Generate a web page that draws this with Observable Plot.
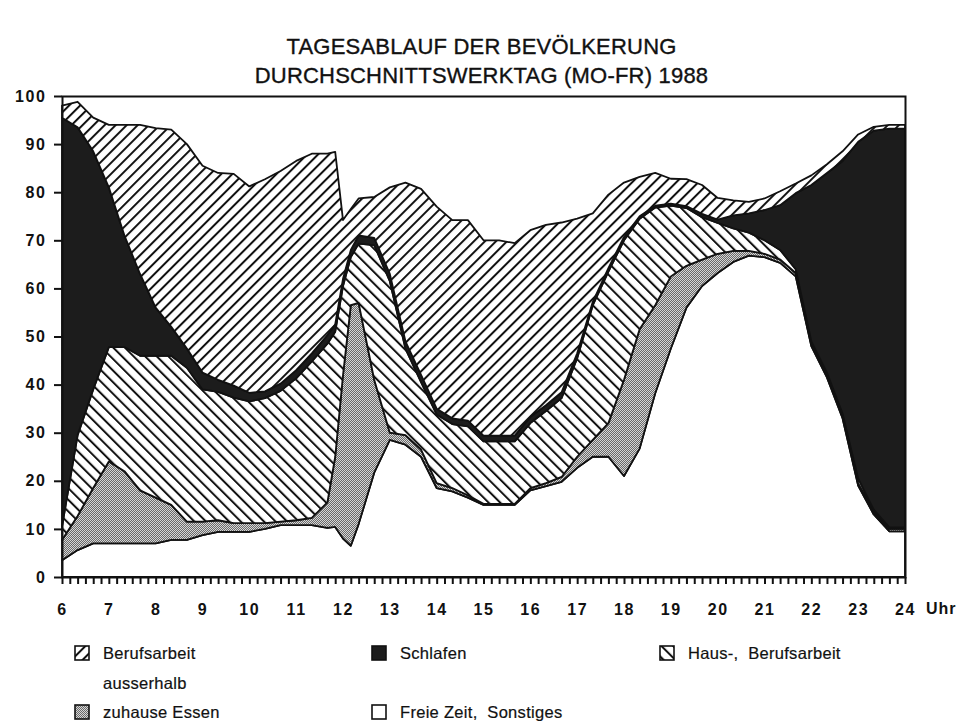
<!DOCTYPE html>
<html>
<head>
<meta charset="utf-8">
<script src="https://cdn.jsdelivr.net/npm/d3@7"></script>
<script src="https://cdn.jsdelivr.net/npm/@observablehq/plot@0.6"></script>
<style>
  html, body { margin: 0; padding: 0; background: #fff; }
  body { width: 963px; height: 724px; position: relative; overflow: hidden;
         font-family: "Liberation Sans", Arial, sans-serif; color: #111; }
  #title { position: absolute; left: 0; top: 32px; width: 963px; text-align: center;
           font-size: 22px; line-height: 29px; letter-spacing: 0.2px; -webkit-text-stroke: 0.35px #111; }
  #chart { position: absolute; left: 0; top: 85px; }
  #uhr { position: absolute; left: 926px; top: 600px; font-size: 16px; font-weight: bold; letter-spacing: 1px; }
  .leg { position: absolute; font-size: 16.5px; line-height: 30px; letter-spacing: 0.3px; -webkit-text-stroke: 0.2px #111; }
  .sw { position: absolute; }
</style>
</head>
<body>
<svg width="0" height="0" style="position:absolute">
  <defs>
    <pattern id="pFwd" patternUnits="userSpaceOnUse" width="7.8" height="20" patternTransform="rotate(45)">
      <rect width="7.8" height="20" fill="#fff"/>
      <rect x="0" y="0" width="2" height="20" fill="#111"/>
    </pattern>
    <pattern id="pBack" patternUnits="userSpaceOnUse" width="8.2" height="20" patternTransform="rotate(-45)">
      <rect width="8.2" height="20" fill="#fff"/>
      <rect x="0" y="0" width="2" height="20" fill="#111"/>
    </pattern>
    <pattern id="pDot" patternUnits="userSpaceOnUse" width="2" height="2">
      <rect width="2" height="2" fill="#d6d6d6"/>
      <rect x="0" y="0" width="1" height="1" fill="#6a6a6a"/>
      <rect x="1" y="1" width="1" height="1" fill="#6a6a6a"/>
    </pattern>
  </defs>
</svg>

<div id="title">TAGESABLAUF DER BEVÖLKERUNG<br>DURCHSCHNITTSWERKTAG (MO-FR) 1988</div>
<div id="chart"></div>
<div id="uhr">Uhr</div>
<div id="legend"></div>

<script>
// time of day
const times = ["6:00","6:20","6:40","7:00","7:20","7:40","8:00","8:20","8:40","9:00","9:20","9:40",
  "10:00","10:20","10:40","11:00","11:20","11:40","11:50","12:00","12:10","12:20","12:40","13:00","13:20","13:40",
  "14:00","14:20","14:40","15:00","15:20","15:40","16:00","16:20","16:40","17:00","17:20","17:40",
  "18:00","18:20","18:40","19:00","19:20","19:40","20:00","20:20","20:40","21:00","21:20","21:40",
  "22:00","22:20","22:40","23:00","23:20","23:40","24:00"];

// shares of the population (%)
const freieZeit = [3.5,5.6,7,7,7,7,7,7.7,7.7,8.7,9.4,9.4,9.4,10,10.8,10.8,10.8,10.2,10.4,8,6.5,11,21.7,28.5,27.5,25,
  18.5,17.8,16.5,15,15,15,18,18.9,19.8,22.7,25,25,21,26.7,38.2,47.5,56,60.5,63.2,65.5,66.8,66.5,65.3,62.5,
  48,41.5,33,19,13,9.5,9.5];
const zuhauseEssen = [4.2,7.1,11.5,17,15,11,9.5,7.3,3.8,2.8,2.4,1.8,1.8,1.2,0.7,1,1.5,5.3,14.6,34,50,46,19.3,1.5,2,1.5,
  1,0.7,0.5,0.2,0.2,0.2,0.5,0.6,1,2.3,3.5,7,20,24.8,18.3,15,8.7,5.5,4,2.3,1,0.7,0.7,0.7,
  0.5,0.5,0.5,0.5,0.5,0.5,0.5];
const hausBerufsarbeit = [2.8,16.8,20.5,23.8,25.8,28,29.5,31,32,27.5,26.7,26.1,25.3,26,27.2,29.5,32.5,33,26,18.5,10,12.3,28,31.5,18,14,
  14.3,13.3,14.3,13,13,13,13.5,15,16.4,20.5,28,31.5,29,23,20.3,14.7,12,8.8,6.4,4.7,3.8,2.8,2,0.8,
  0.5,0.5,0.5,1,0.5,0.3,0.3];
const schlafen = [85,64,49.5,33.2,23.2,17,10,6,4,3.5,2.5,2.5,1.8,1.4,1.5,1.7,1.7,1.8,1.5,1.5,1.5,1.7,1.5,1.5,1.5,1.5,
  1.2,1.2,1.2,1.2,1.2,1.2,1.3,1.2,1.2,1,0.7,0.7,0.7,0.5,0.4,0.4,0.4,0.7,0.7,2.7,4,6.3,9.3,15.8,
  32.5,41.5,52.5,70,78.8,82.9,82.9];
const berufsarbeitAusserhalb = [2.5,5.3,7,13,23,31,37.3,41,42.5,43,43,44,42.9,44.1,44.2,43.5,41.5,37.7,35.9,12.2,8.5,7.7,8.5,18,33,38.7,
  42,41.2,41.7,40.6,40.6,40,38.8,37.5,35.3,28,18.4,15.3,11.3,8.2,6.8,5.2,5.6,6,4.5,3.1,2.4,2.4,2.9,2,
  2,1.8,2,1.5,0.8,0.8,0.8];

// stacking order, bottom to top
const categories = ["Freie Zeit, Sonstiges","zuhause Essen","Haus-, Berufsarbeit","Schlafen","Berufsarbeit ausserhalb"];
const series = [freieZeit, zuhauseEssen, hausBerufsarbeit, schlafen, berufsarbeitAusserhalb];
const fills = ["#ffffff","url(#pDot)","url(#pBack)","#1c1c1c","url(#pFwd)"];

const yTicks = [0,10,20,30,40,50,60,70,80,90,100];
const hourTicks = [6,7,8,9,10,11,12,13,14,15,16,17,18,19,20,21,22,23,24];

const toHour = s => { const [h, m] = s.split(":").map(Number); return h + m / 60; };
const table = [];
categories.forEach((cat, k) => {
  times.forEach((t, i) => table.push({hour: toHour(t), cat, value: series[k][i]}));
});
const minorTicks = [];
hourTicks.forEach(h => { for (let m = 0; m < 60; m += 10) if (h + m / 60 <= 24) minorTicks.push(h + m / 60); });

const chart = Plot.plot({
  width: 963, height: 545,
  marginTop: 11, marginBottom: 53, marginLeft: 62, marginRight: 58,
  style: {fontFamily: "'Liberation Sans', Arial, sans-serif", fontSize: "16px", fontWeight: "bold", color: "#111", background: "transparent"},
  x: {domain: [6, 24], label: null},
  y: {domain: [0, 100], label: null},
  color: {domain: categories, range: fills},
  marks: [
    Plot.areaY(table, {x: "hour", y: "value", z: "cat", fill: "cat", order: categories,
      stroke: "#111", strokeWidth: 1.8, strokeLinejoin: "round"}),
    Plot.frame({stroke: "#111", strokeWidth: 2}),
    Plot.axisY({ticks: yTicks, tickSize: 8, tickPadding: 8, strokeWidth: 2, label: null, tickFormat: d => String(d)}),
    Plot.axisX({ticks: minorTicks, tickSize: 7, strokeWidth: 2, label: null, tickFormat: () => ""}),
    Plot.axisX({ticks: hourTicks, tickSize: 0, tickPadding: 26, label: null, tickFormat: d => String(d)})
  ]
});
chart.querySelectorAll("text").forEach(t => t.setAttribute("letter-spacing", "1.6"));
document.getElementById("chart").appendChild(chart);

// legend
const legendItems = [
  {label: "Berufsarbeit<br>ausserhalb", fill: "url(#pFwd)", x: 74, y: 645},
  {label: "Schlafen", fill: "#1c1c1c", x: 371, y: 645},
  {label: "Haus-,&nbsp;&nbsp;Berufsarbeit", fill: "url(#pBack)", x: 659, y: 645},
  {label: "zuhause Essen", fill: "url(#pDot)", x: 74, y: 704},
  {label: "Freie Zeit,&nbsp;&nbsp;Sonstiges", fill: "#ffffff", x: 371, y: 704}
];
const leg = document.getElementById("legend");
legendItems.forEach(d => {
  const sw = document.createElement("div");
  sw.className = "sw";
  sw.style.left = d.x + "px"; sw.style.top = d.y + "px";
  sw.innerHTML = `<svg width="16" height="16"><rect x="1" y="1" width="14" height="14" fill="${d.fill}" stroke="#111" stroke-width="1.6"/></svg>`;
  leg.appendChild(sw);
  const tx = document.createElement("div");
  tx.className = "leg";
  tx.style.left = (d.x + 29) + "px"; tx.style.top = (d.y - 7) + "px";
  tx.innerHTML = d.label;
  leg.appendChild(tx);
});
</script>
</body>
</html>
